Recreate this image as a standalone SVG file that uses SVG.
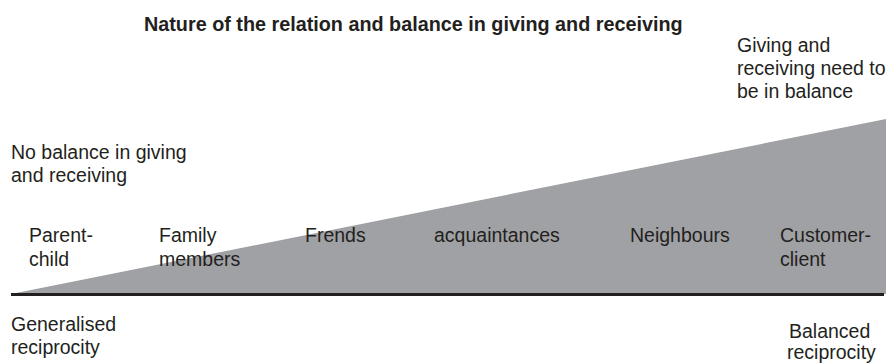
<svg xmlns="http://www.w3.org/2000/svg" width="886" height="364" viewBox="0 0 886 364">
<style>
text{font-family:"Liberation Sans",Arial,sans-serif;font-size:19.5px;fill:#231f20}
.title{font-weight:bold;font-size:19.8px}
</style>
<rect width="886" height="364" fill="#ffffff"/>
<g id="wedge">
<polygon points="11,294 886,119 886,294" fill="#a0a1a4"/>
</g>
<g id="connectors">
<line x1="11" y1="294.5" x2="884" y2="294.5" stroke="#231f20" stroke-width="3"/>
</g>
<g id="title"><text class="title" x="144" y="31">Nature of the relation and balance in giving and receiving</text></g>
<g id="no-balance"><text x="11" y="159">No balance in giving</text><text x="11" y="182">and receiving</text></g>
<g id="balance"><text x="737" y="52">Giving and</text><text x="737" y="75">receiving need to</text><text x="737" y="98">be in balance</text></g>
<g id="parent-child"><text x="29" y="242">Parent-</text><text x="29" y="266">child</text></g>
<g id="family"><text x="159" y="242">Family</text><text x="159" y="266">members</text></g>
<g id="frends"><text x="305" y="242">Frends</text></g>
<g id="acquaintances"><text x="434" y="242">acquaintances</text></g>
<g id="neighbours"><text x="630" y="242">Neighbours</text></g>
<g id="customer-client"><text x="780" y="242">Customer-</text><text x="780" y="266">client</text></g>
<g id="generalised"><text x="11" y="331">Generalised</text><text x="11" y="354">reciprocity</text></g>
<g id="balanced"><text x="789" y="338">Balanced</text><text x="787" y="359">reciprocity</text></g>
</svg>
